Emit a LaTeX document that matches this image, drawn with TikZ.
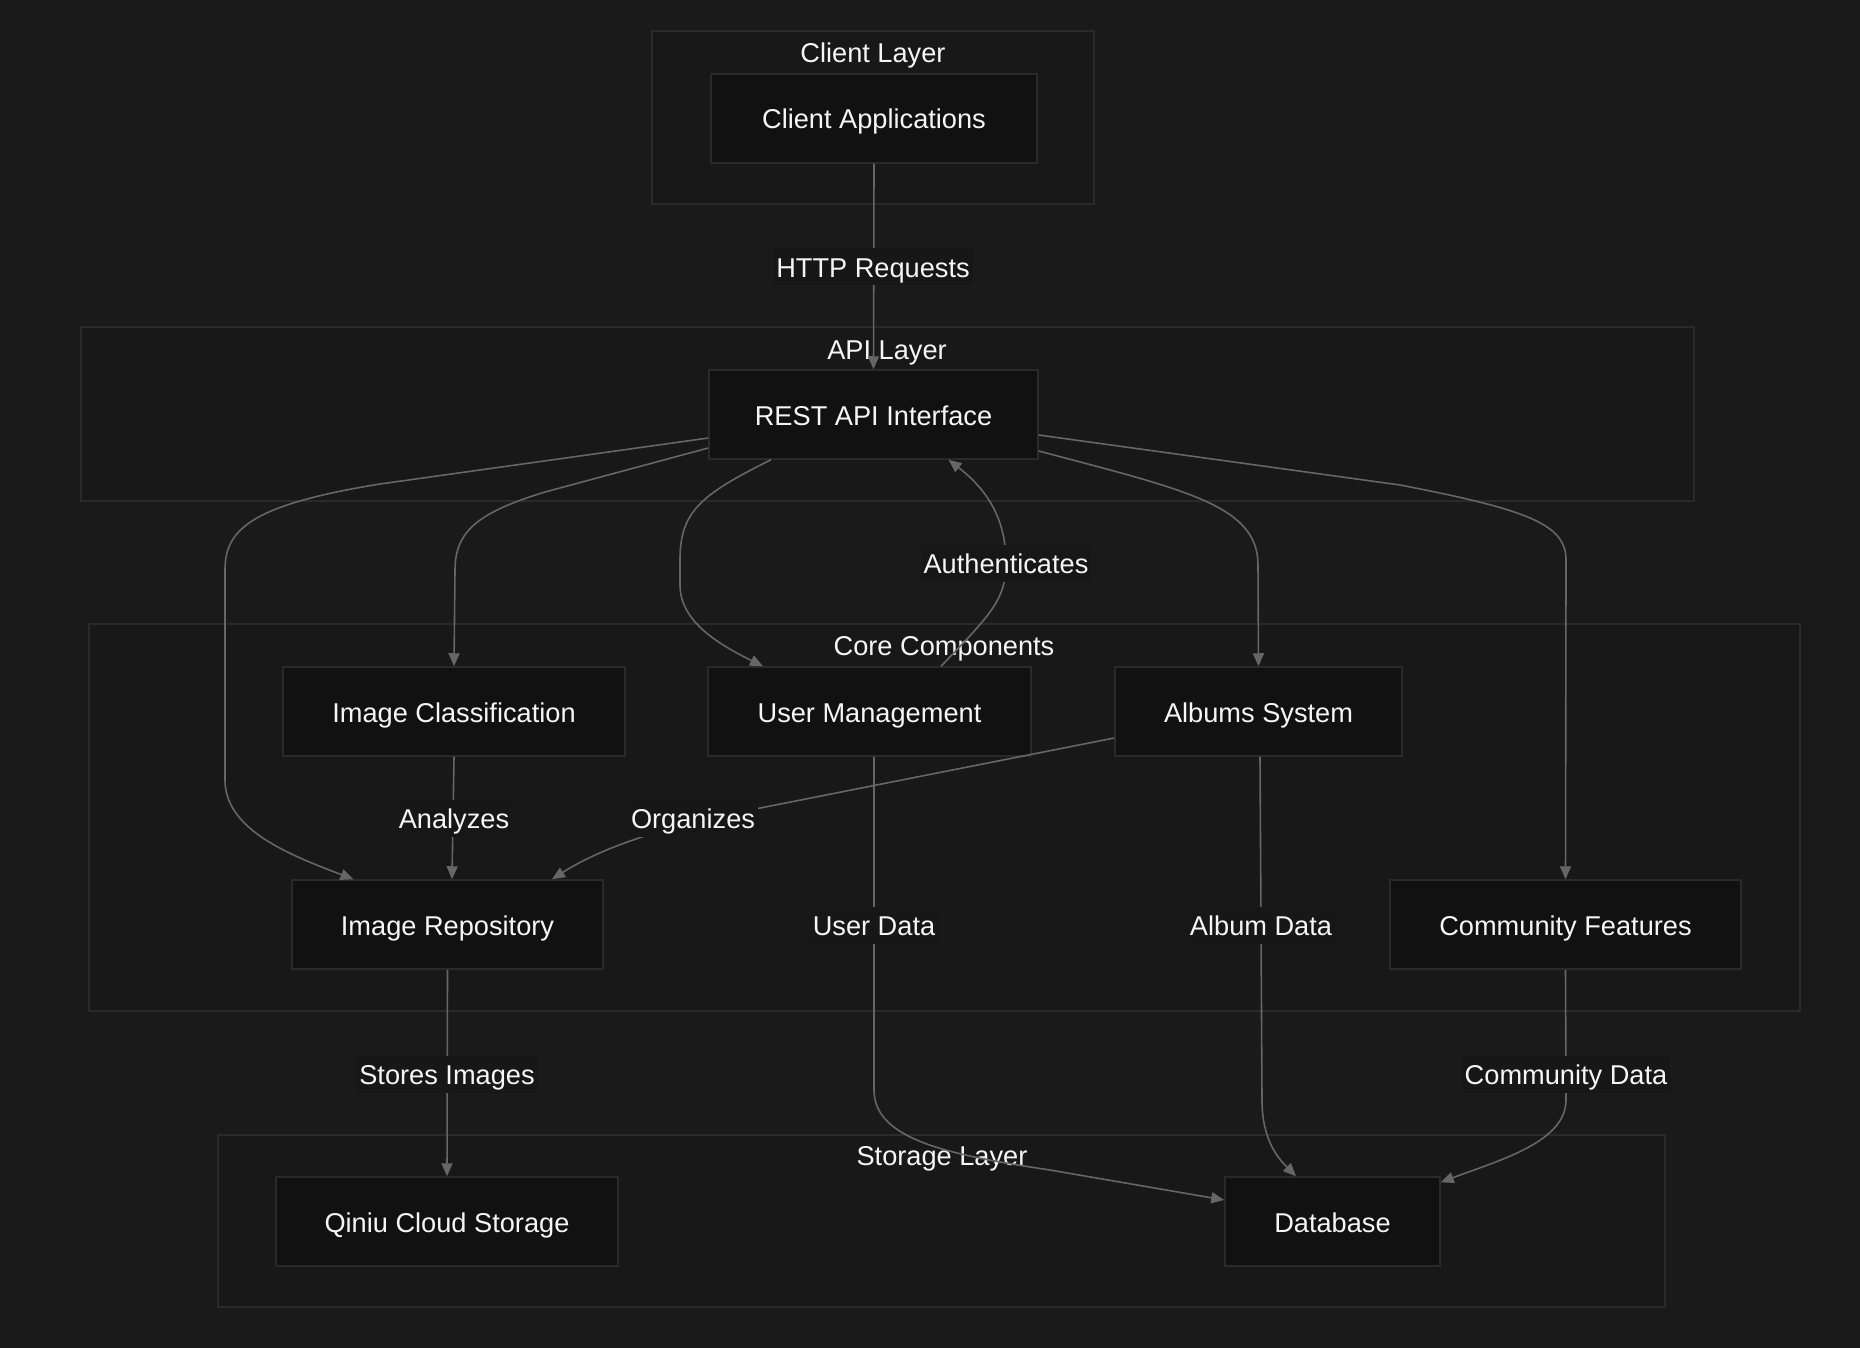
\documentclass[tikz,border=0pt]{standalone}
\usepackage{fontspec}
\setmainfont{Liberation Sans}
\usetikzlibrary{arrows.meta,calc}
\definecolor{bgc}{HTML}{1A1A1A}
\definecolor{clfill}{HTML}{181818}
\definecolor{clline}{HTML}{2A2A2A}
\definecolor{ndfill}{HTML}{111111}
\definecolor{ndline}{HTML}{2A2A2A}
\definecolor{edgec}{HTML}{666666}
\definecolor{txtc}{HTML}{F5F5F5}
\definecolor{lblfill}{HTML}{171717}
\tikzset{
  txt/.style={font=\fontsize{27.2pt}{32pt}\selectfont, text=txtc, text height=22pt, text depth=1pt},
  cluster/.style={draw=clline, fill=clfill, line width=1.5pt},
  cltitle/.style={txt, inner sep=0pt},
  box/.style={txt, draw=ndline, fill=ndfill, line width=1.5pt, minimum height=89pt, inner sep=0pt},
  conn/.style={draw=edgec, line width=1.6pt, -{Triangle[length=13pt,width=11pt]}},
  elabel/.style={txt, fill=lblfill, inner xsep=3pt, inner ysep=7pt},
}
\begin{document}
\begin{tikzpicture}[x=1pt,y=-1pt]
\fill[bgc] (0,0) rectangle (1860,1348);
\useasboundingbox (0,0) rectangle (1860,1348);

% clusters
\draw[cluster] (652,31) rectangle (1094,204);
\node[cltitle] (tclient) at (873,52) {Client Layer};
\draw[cluster] (81,327) rectangle (1694,501);
\node[cltitle] (tapi) at (887,349) {API Layer};
\draw[cluster] (89,624) rectangle (1800,1011);
\node[cltitle] (tcore) at (944,645) {Core Components};
\draw[cluster] (218,1135) rectangle (1665,1307);
\node[cltitle] (tstore) at (942,1155) {Storage Layer};

% nodes
\node[box, minimum width=326pt] (client) at (874,118.5) {Client Applications};
\node[box, minimum width=329pt] (rest) at (873.5,414.5) {REST API Interface};
\node[box, minimum width=342pt] (imgcls) at (454,711.5) {Image Classification};
\node[box, minimum width=323pt] (user) at (869.5,711.5) {User Management};
\node[box, minimum width=287pt] (albums) at (1258.5,711.5) {Albums System};
\node[box, minimum width=311pt] (imgrepo) at (447.5,924.5) {Image Repository};
\node[box, minimum width=351pt] (community) at (1565.5,924.5) {Community Features};
\node[box, minimum width=342pt] (qiniu) at (447,1221.5) {Qiniu Cloud Storage};
\node[box, minimum width=215pt] (db) at (1332.5,1221.5) {Database};

% edges
\draw[conn] (client.south) -- (rest.north);
\draw[conn] ($(rest.west)+(0,23.5)$) -- (380,484)
  .. controls (250,505) and (225,530) .. (225,570) -- (225,780)
  .. controls (225,830) and (290,855) .. ($(imgrepo.north)+(-94,0)$);
\draw[conn] ($(rest.west)+(0,33.5)$) -- (545,492)
  .. controls (480,512) and (455,530) .. (455,570) -- (imgcls.north);
\draw[conn] ($(rest.south)+(-102.5,0)$) .. controls (700,495) and (680,512) .. (680,560)
  -- (680,585) .. controls (680,622) and (720,645) .. ($(user.north)+(-106.5,0)$);
\draw[conn] ($(user.north)+(71.5,0)$) .. controls (990,615) and (1006,600) .. (1006,563)
  .. controls (1006,522) and (990,492) .. ($(rest.south)+(75,0)$);
\draw[conn] ($(rest.east)+(0,36.5)$) .. controls (1185,490) and (1258,505) .. (1258,565)
  -- (albums.north);
\draw[conn] ($(rest.east)+(0,20.5)$) -- (1400,485)
  .. controls (1530,510) and (1566,525) .. (1566,560) -- (community.north);
\draw[conn] (imgcls.south) -- ($(imgrepo.north)+(4.5,0)$);
\draw[conn] ($(albums.west)+(0,26.5)$) -- (740,812)
  .. controls (640,832) and (590,855) .. ($(imgrepo.north)+(104.5,0)$);
\draw[conn] ($(user.south)+(4.5,0)$) -- (874,1090)
  .. controls (874,1140) and (950,1155) .. (1050,1170) -- ($(db.west)+(0,-21.5)$);
\draw[conn] ($(albums.south)+(1.5,0)$) -- (1262,1100)
  .. controls (1262,1140) and (1278,1158) .. ($(db.north)+(-36.5,0)$);
\draw[conn] (community.south) -- (1566,1100)
  .. controls (1566,1142) and (1500,1160) .. ($(db.north east)+(0,6)$);
\draw[conn] (imgrepo.south) -- (qiniu.north);

% edge labels
\node[elabel] (lhttp) at (873,267) {HTTP Requests};
\node[elabel] (lauth) at (1006,563) {Authenticates};
\node[elabel] (lanal) at (454,818) {Analyzes};
\node[elabel] (lorg) at (693,818) {Organizes};
\node[elabel] (luser) at (874,925) {User Data};
\node[elabel] (lalbum) at (1261,925) {Album Data};
\node[elabel] (lstore) at (447,1074) {Stores Images};
\node[elabel] (lcomm) at (1566,1074) {Community Data};
\end{tikzpicture}
\end{document}
